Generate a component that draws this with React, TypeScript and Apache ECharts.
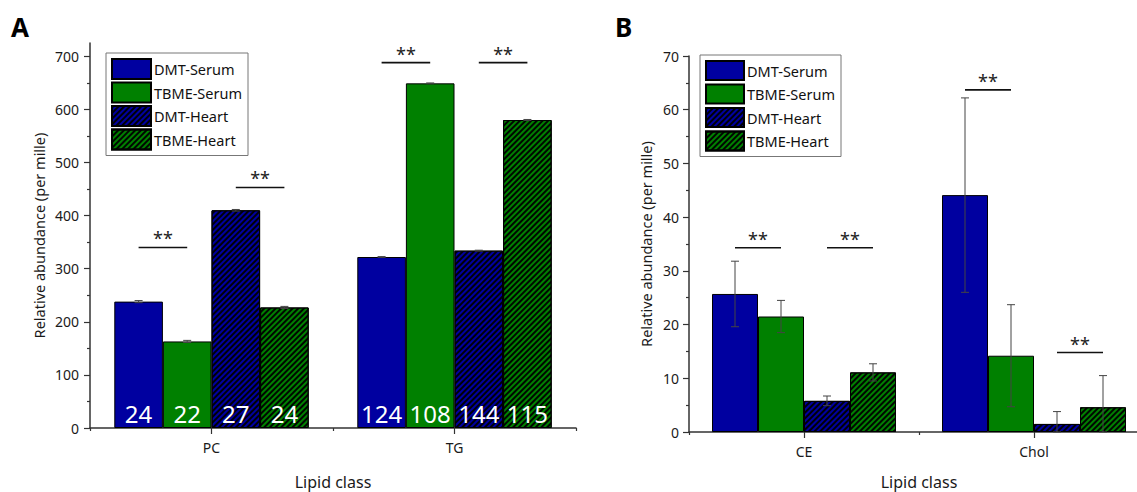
import React, { useEffect, useRef } from "react";
import * as echarts from "echarts";

const seriesNames = ["DMT-Serum", "TBME-Serum", "DMT-Heart", "TBME-Heart"];
const colors = ["#0000A0", "#008000", "#0000A0", "#008000"];
const hatched = [false, false, true, true];

// Panel A
const categoriesA = ["PC", "TG"];
const dmtSerumA = [238, 322];
const tbmeSerumA = [163, 649];
const dmtHeartA = [410, 334];
const tbmeHeartA = [227, 580];
const errA = [
  [2, 0.8],
  [2, 0.8],
  [1.5, 0.8],
  [2, 1],
];
const countsA = [
  [24, 124],
  [22, 108],
  [27, 144],
  [24, 115],
];
const sigA = [
  [0, 0, 1, 340],
  [0, 2, 3, 453],
  [1, 0, 1, 688],
  [1, 2, 3, 688],
];
const yTicksA = [0, 100, 200, 300, 400, 500, 600, 700];
const yMinorA = [50, 150, 250, 350, 450, 550, 650];

// Panel B
const categoriesB = ["CE", "Chol"];
const dmtSerumB = [25.7, 44.1];
const tbmeSerumB = [21.5, 14.2];
const dmtHeartB = [5.8, 1.5];
const tbmeHeartB = [11.1, 4.6];
const errB = [
  [6.1, 18.1],
  [3.0, 9.5],
  [0.9, 2.3],
  [1.6, 5.9],
];
const sigB = [
  [0, 0, 1, 34.3],
  [0, 2, 3, 34.3],
  [1, 0, 1, 63.7],
  [1, 2, 3, 14.8],
];
const yTicksB = [0, 10, 20, 30, 40, 50, 60, 70];
const yMinorB = [5, 15, 25, 35, 45, 55, 65];

const FONT = "Noto Sans";

const hatchDecal = {
  symbol: "rect",
  symbolSize: 1,
  dashArrayX: [1, 0],
  dashArrayY: [1.6, 1.4],
  rotation: -Math.PI / 4,
  color: "rgba(0,0,0,0.95)",
};

function barStyle(i: number) {
  const s: any = { color: colors[i], borderColor: "#000", borderWidth: 1 };
  if (hatched[i]) s.decal = hatchDecal;
  return s;
}

function errRender(params: any, api: any) {
  const cat = api.value(0);
  const si = api.value(1);
  const v = api.value(2);
  const e = api.value(3);
  const c = api.coord([cat, v]);
  const band = api.size([1, 0])[0];
  const bw = (band * 0.8) / 4;
  const x = c[0] + (si - 1.5) * bw;
  const top = api.coord([cat, v + e])[1];
  const bot = api.coord([cat, Math.max(0, v - e)])[1];
  const st = { stroke: "#444", lineWidth: 1 };
  return {
    type: "group",
    children: [
      { type: "line", shape: { x1: x, y1: top, x2: x, y2: bot }, style: st },
      { type: "line", shape: { x1: x - 4, y1: top, x2: x + 4, y2: top }, style: st },
      { type: "line", shape: { x1: x - 4, y1: bot, x2: x + 4, y2: bot }, style: st },
    ],
  };
}

function sigRender(params: any, api: any) {
  const cat = api.value(0);
  const a = api.value(1);
  const b = api.value(2);
  const y = api.value(3);
  const c = api.coord([cat, y]);
  const band = api.size([1, 0])[0];
  const bw = (band * 0.8) / 4;
  const xa = c[0] + (a - 1.5) * bw;
  const xb = c[0] + (b - 1.5) * bw;
  return {
    type: "group",
    children: [
      {
        type: "line",
        shape: { x1: xa, y1: c[1], x2: xb, y2: c[1] },
        style: { stroke: "#111", lineWidth: 1.6 },
      },
      {
        type: "text",
        x: (xa + xb) / 2,
        y: c[1] - 9,
        style: {
          text: "**",
          fill: "#222",
          fontSize: 18,
          fontFamily: FONT,
          align: "center",
          verticalAlign: "middle",
        },
      },
    ],
  };
}

function buildErrData(vals: number[][], errs: number[][]) {
  const out: number[][] = [];
  for (let si = 0; si < vals.length; si++) {
    for (let ci = 0; ci < vals[si].length; ci++) {
      out.push([ci, si, vals[si][ci], errs[si][ci]]);
    }
  }
  return out;
}

export default function App() {
  const ref = useRef<HTMLDivElement>(null);
  useEffect(() => {
    if (!ref.current) return;
    const chart = echarts.init(ref.current, null, { renderer: "svg" });
    const valsA = [dmtSerumA, tbmeSerumA, dmtHeartA, tbmeHeartA];
    const valsB = [dmtSerumB, tbmeSerumB, dmtHeartB, tbmeHeartB];

    const axisLine = { show: true, lineStyle: { color: "#333", width: 1.5 } };
    const labelStyle = { color: "#1a1a1a", fontSize: 14, fontFamily: FONT };

    const mkX = (grid: number, cats: string[], nameGap: number) => [
      {
        type: "category",
        gridIndex: grid,
        data: cats,
        boundaryGap: true,
        axisLine,
        axisTick: { show: true, alignWithLabel: true, length: 6, lineStyle: { color: "#333", width: 1.2 } },
        axisLabel: { ...labelStyle, margin: 12 },
        name: "Lipid class",
        nameLocation: "middle",
        nameGap,
        nameTextStyle: { color: "#1a1a1a", fontSize: 16, fontFamily: FONT, lineHeight: 18 },
      },
      {
        type: "category",
        gridIndex: grid,
        data: cats,
        boundaryGap: true,
        position: "bottom",
        axisLine: { show: false },
        axisTick: { show: true, alignWithLabel: false, length: 3, lineStyle: { color: "#333", width: 1.2 } },
        axisLabel: { show: false },
      },
    ];

    const mkY = (grid: number, max: number, ticks: number[], minor: number[], gap: number, margin: number) => [
      {
        type: "value",
        gridIndex: grid,
        min: 0,
        max,
        axisLine,
        splitLine: { show: false },
        axisTick: { show: true, length: 6, customValues: ticks, lineStyle: { color: "#333", width: 1.2 } },
        axisLabel: { ...labelStyle, margin, customValues: ticks },
        name: "Relative abundance (per mille)",
        nameLocation: "middle",
        nameGap: gap,
        nameTextStyle: { color: "#1a1a1a", fontSize: 14.5, fontFamily: FONT },
      },
      {
        type: "value",
        gridIndex: grid,
        min: 0,
        max,
        position: "left",
        axisLine: { show: false },
        splitLine: { show: false },
        axisTick: { show: true, length: 3, customValues: minor, lineStyle: { color: "#333", width: 1.2 } },
        axisLabel: { show: false, customValues: minor },
      },
    ];

    const barsA = seriesNames.map((n, i) => ({
      type: "bar",
      name: n,
      xAxisIndex: 0,
      yAxisIndex: 0,
      data: valsA[i],
      barGap: "0%",
      barCategoryGap: "20%",
      itemStyle: barStyle(i),
      label: {
        show: true,
        position: "insideBottom",
        distance: 3,
        color: "#fff",
        fontSize: 24,
        fontFamily: FONT,
        formatter: (p: any) => String(countsA[i][p.dataIndex]),
      },
    }));
    const barsB = seriesNames.map((n, i) => ({
      type: "bar",
      name: n,
      xAxisIndex: 2,
      yAxisIndex: 2,
      data: valsB[i],
      barGap: "0%",
      barCategoryGap: "20%",
      itemStyle: barStyle(i),
    }));

    const legendCommon = {
      orient: "vertical",
      icon: "rect",
      backgroundColor: "#fff",
      borderColor: "#777",
      borderWidth: 1,
      borderRadius: 0,
      padding: [5, 6, 5, 5],
      textStyle: { color: "#111", fontSize: 14.5, fontFamily: FONT, padding: [0, 0, 0, -2] },
      data: seriesNames,
      selectedMode: false,
    };

    chart.setOption({
      animation: false,
      textStyle: { fontFamily: FONT },
      aria: { enabled: false },
      grid: [
        { left: 90, top: 43, width: 486, height: 385, outerBoundsMode: "none", containLabel: false },
        { left: 689, top: 56, width: 460, height: 376, outerBoundsMode: "none", containLabel: false },
      ],
      xAxis: [...mkX(0, categoriesA, 45), ...mkX(1, categoriesB, 41)],
      yAxis: [
        ...mkY(0, 725, yTicksA, yMinorA, 44, 11),
        ...mkY(1, 70, yTicksB, yMinorB, 36, 10),
      ],
      legend: [
        { ...legendCommon, left: 106, top: 53, itemWidth: 39, itemHeight: 20, itemGap: 1.5 },
        { ...legendCommon, left: 700, top: 55, itemWidth: 38, itemHeight: 19, itemGap: 2.5 },
      ],
      graphic: [
        { type: "text", left: 11, top: 14, style: { text: "A", fontSize: 26, fontWeight: "bold", fontFamily: FONT, fill: "#000" } },
        { type: "text", left: 615, top: 14, style: { text: "B", fontSize: 26, fontWeight: "bold", fontFamily: FONT, fill: "#000" } },
      ],
      series: [
        ...barsA,
        ...barsB,
        {
          type: "custom",
          xAxisIndex: 0,
          yAxisIndex: 0,
          renderItem: errRender,
          data: buildErrData(valsA, errA),
          encode: { x: 0, y: 2 },
          z: 5,
        },
        {
          type: "custom",
          xAxisIndex: 2,
          yAxisIndex: 2,
          renderItem: errRender,
          data: buildErrData(valsB, errB),
          encode: { x: 0, y: 2 },
          z: 5,
        },
        {
          type: "custom",
          xAxisIndex: 0,
          yAxisIndex: 0,
          renderItem: sigRender,
          data: sigA,
          encode: { x: 0, y: 3 },
          z: 6,
        },
        {
          type: "custom",
          xAxisIndex: 2,
          yAxisIndex: 2,
          renderItem: sigRender,
          data: sigB,
          encode: { x: 0, y: 3 },
          z: 6,
        },
      ],
    });
    return () => chart.dispose();
  }, []);
  return (
    <div
      ref={ref}
      style={{ position: "absolute", left: 0, top: 0, width: 1137, height: 492, background: "#fff" }}
    />
  );
}
